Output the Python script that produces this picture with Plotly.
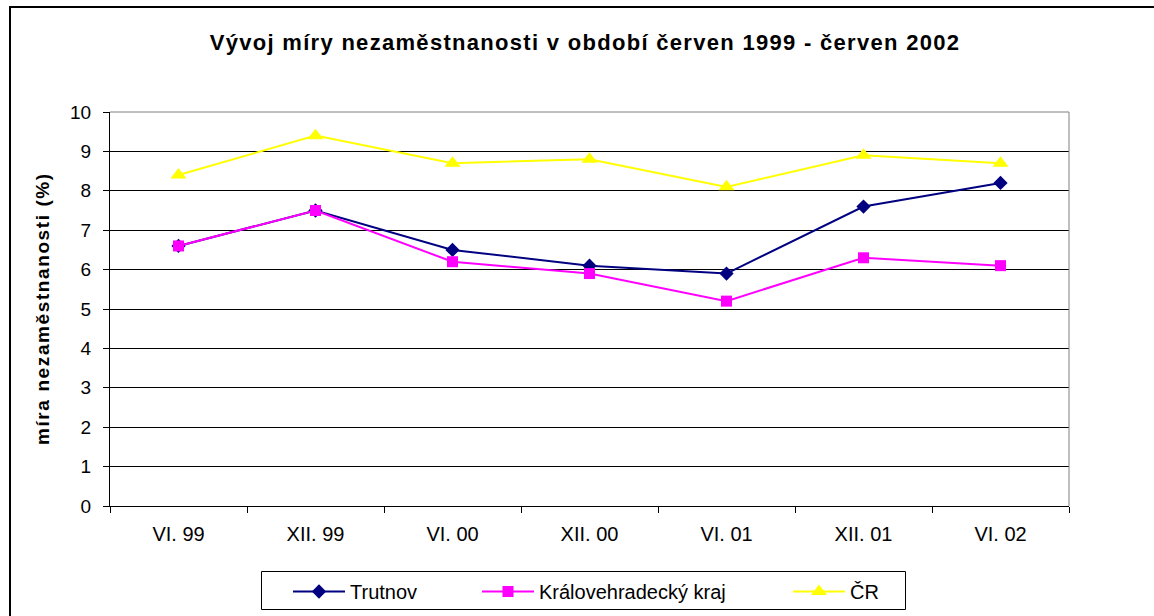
import plotly.graph_objects as go

# ---- data ----
categories = ["VI. 99", "XII. 99", "VI. 00", "XII. 00", "VI. 01", "XII. 01", "VI. 02"]
trutnov = [6.6, 7.5, 6.5, 6.1, 5.9, 7.6, 8.2]
kraj = [6.6, 7.5, 6.2, 5.9, 5.2, 6.3, 6.1]
cr = [8.4, 9.4, 8.7, 8.8, 8.1, 8.9, 8.7]
series_names = ["Trutnov", "Královehradecký kraj", "ČR"]
title_text = "Vývoj míry nezaměstnanosti v období červen 1999 - červen 2002"
y_title = "míra nezaměstnanosti (%)"
y_ticks = list(range(0, 11))

# ---- layout geometry (pixels) ----
W, H = 1154, 616
ML, MR, MT, MB = 110, 85, 112, 110
PW, PH = W - ML - MR, H - MT - MB


def px_x(px):
    return (px - ML) / PW


def px_y(py):
    return 1 - (py - MT) / PH


FONT = "Liberation Sans, Arial, sans-serif"

fig = go.Figure()
fig.add_trace(go.Scatter(
    x=categories, y=trutnov, name=series_names[0], mode="lines+markers",
    line=dict(color="#000080", width=2),
    marker=dict(symbol="diamond", size=11, color="#000080"),
    legend="legend", showlegend=True,
))
fig.add_trace(go.Scatter(
    x=categories, y=kraj, name=series_names[1], mode="lines+markers",
    line=dict(color="#FF00FF", width=2),
    marker=dict(symbol="square", size=11, color="#FF00FF"),
    legend="legend2", showlegend=True,
))
fig.add_trace(go.Scatter(
    x=categories, y=cr, name=series_names[2], mode="lines+markers",
    line=dict(color="#FFFF00", width=2),
    marker=dict(symbol="triangle-up", size=14, color="#FFFF00"),
    legend="legend3", showlegend=True,
))

shapes = [
    # plot-area border (top and right, grey)
    dict(type="line", xref="paper", yref="paper", x0=0, x1=1, y0=1, y1=1,
         line=dict(color="#808080", width=1), layer="above"),
    dict(type="line", xref="paper", yref="paper", x0=1, x1=1, y0=0, y1=1,
         line=dict(color="#808080", width=1), layer="above"),
    # outer chart frame (left and top visible)
    dict(type="line", xref="paper", yref="paper", x0=px_x(10), x1=px_x(10),
         y0=px_y(6), y1=px_y(640), line=dict(color="black", width=2)),
    dict(type="line", xref="paper", yref="paper", x0=px_x(9), x1=px_x(1180),
         y0=px_y(7), y1=px_y(7), line=dict(color="black", width=2)),
    # legend box
    dict(type="rect", xref="paper", yref="paper",
         x0=px_x(261.5), x1=px_x(905.5), y0=px_y(571.5), y1=px_y(609.5),
         line=dict(color="black", width=1), fillcolor="white", layer="above"),
]

legend_common = dict(
    orientation="h", xanchor="left", yanchor="top",
    borderwidth=0, bgcolor="rgba(0,0,0,0)",
    font=dict(family=FONT, size=20, color="black"),
    itemwidth=52,
)

fig.update_layout(
    width=W, height=H,
    showlegend=True,
    margin=dict(l=ML, r=MR, t=MT, b=MB, autoexpand=False),
    paper_bgcolor="white", plot_bgcolor="white",
    font=dict(family=FONT, color="black", size=18),
    title=dict(
        text=f'<span style="letter-spacing:1.3px">{title_text}</span>',
        font=dict(family=FONT, size=22, color="black", weight="bold"),
        x=px_x(585), xref="paper", xanchor="center",
        y=1 - 42 / H, yref="container", yanchor="middle",
    ),
    xaxis=dict(
        type="category", range=[-0.5, 6.5],
        showline=True, linecolor="black", linewidth=1,
        ticks="outside", tickson="boundaries", ticklen=6, tickcolor="black",
        showgrid=False, zeroline=False,
        tickfont=dict(family=FONT, size=20, color="black"),
        ticklabelstandoff=10,
        automargin=False, fixedrange=True,
    ),
    yaxis=dict(
        range=[0, 10], tickvals=y_ticks,
        showline=True, linecolor="black", linewidth=1,
        ticks="outside", ticklen=6, tickcolor="black",
        showgrid=True, gridcolor="black", gridwidth=1,
        zeroline=False,
        tickfont=dict(family=FONT, size=19, color="black"),
        ticklabelstandoff=8,
        automargin=False, fixedrange=True,
    ),
    legend=dict(legend_common, x=px_x(288), y=px_y(572)),
    legend2=dict(legend_common, x=px_x(477), y=px_y(572)),
    legend3=dict(legend_common, x=px_x(788), y=px_y(572)),
    annotations=[dict(
        text=f'<span style="letter-spacing:1.6px">{y_title}</span>',
        textangle=-90, showarrow=False,
        xref="paper", yref="paper", x=px_x(42), y=0.5,
        xanchor="center", yanchor="middle",
        font=dict(family=FONT, size=19, color="black", weight="bold"),
    )],
    shapes=shapes,
)

fig.write_html(
    "out.html",
    config={"displayModeBar": False},
    post_script="document.body.style.margin='0';document.body.style.overflow='hidden';",
)
